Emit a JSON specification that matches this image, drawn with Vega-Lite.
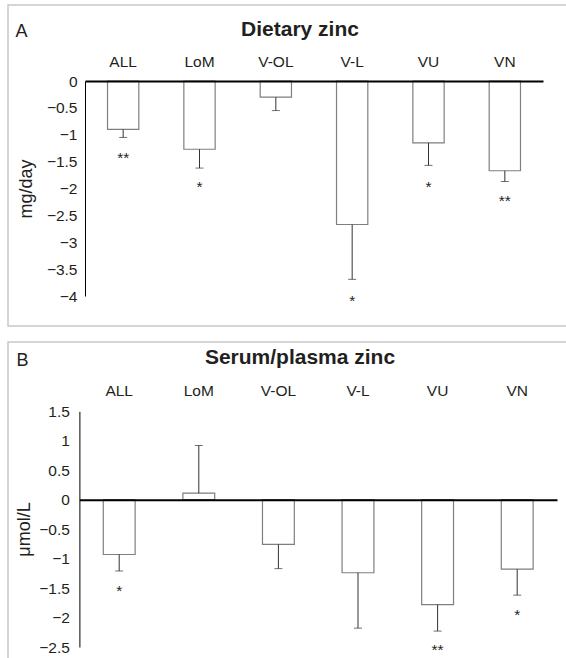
{
  "$schema": "https://vega.github.io/schema/vega-lite/v6.json",
  "padding": {"left": 7, "top": 4, "right": 0, "bottom": 0},
  "background": "white",
  "config": {
    "view": {"stroke": "#c8c8c8", "strokeWidth": 1.5},
    "font": "Liberation Sans",
    "axis": {"grid": false, "labelOverlap": false, "labelColor": "#231f20", "titleColor": "#231f20", "labelFont": "Liberation Sans", "titleFont": "Liberation Sans"},
    "axisY": {"labelOverlap": false}
  },
  "spacing": 14,
  "datasets": {
    "dietary": [
      {"group": "ALL", "mean": -0.90, "err": -1.05, "sig": "**", "sigpos": -1.36},
      {"group": "LoM", "mean": -1.27, "err": -1.62, "sig": "*", "sigpos": -1.89},
      {"group": "V-OL", "mean": -0.30, "err": -0.55, "sig": "", "sigpos": null},
      {"group": "V-L", "mean": -2.67, "err": -3.69, "sig": "*", "sigpos": -4.01},
      {"group": "VU", "mean": -1.15, "err": -1.57, "sig": "*", "sigpos": -1.89},
      {"group": "VN", "mean": -1.67, "err": -1.87, "sig": "**", "sigpos": -2.15}
    ],
    "serum": [
      {"group": "ALL", "mean": -0.93, "err": -1.21, "sig": "*", "sigpos": -1.48},
      {"group": "LoM", "mean": 0.11, "err": 0.92, "sig": "", "sigpos": null},
      {"group": "V-OL", "mean": -0.76, "err": -1.17, "sig": "", "sigpos": null},
      {"group": "V-L", "mean": -1.24, "err": -2.18, "sig": "", "sigpos": null},
      {"group": "VU", "mean": -1.78, "err": -2.23, "sig": "**", "sigpos": -2.49},
      {"group": "VN", "mean": -1.18, "err": -1.62, "sig": "*", "sigpos": -1.89}
    ]
  },
  "vconcat": [
    {
      "width": 584,
      "height": 321,
      "title": {"text": "Dietary zinc", "anchor": "middle", "frame": "group", "offset": -51.7, "baseline": "alphabetic", "fontSize": 21, "fontWeight": "bold", "color": "#231f20", "font": "Liberation Sans"},
      "data": {"name": "dietary"},
      "encoding": {
        "x": {
          "field": "group", "type": "nominal", "sort": null,
          "scale": {"range": [77, 535], "paddingInner": 0.59, "paddingOuter": 0.295},
          "axis": {
            "orient": "top", "offset": -76, "domain": true, "domainColor": "#000000", "domainWidth": 2,
            "ticks": false, "tickSize": 0, "labelPadding": 15, "labelBaseline": "alphabetic", "labelAngle": 0,
            "labelFontSize": 15.5, "zindex": 1,
            "title": "A", "titleX": 7, "titleY": -44.3, "titleAlign": "left", "titleBaseline": "alphabetic",
            "titleFontSize": 18, "titleFontWeight": "normal", "titleAngle": 0
          }
        }
      },
      "layer": [
        {
          "mark": {"type": "bar", "fill": "white", "stroke": "#7f7f7f", "strokeWidth": 1.2},
          "encoding": {
            "y": {
              "field": "mean", "type": "quantitative",
              "scale": {"domain": [-4, 0], "range": [291, 76], "nice": false, "zero": false},
              "axis": {
                "orient": "left", "offset": -77, "tickCount": 8,
                "format": "~g", "labelOverlap": false,
                "ticks": false, "tickSize": 0, "domainColor": "#000000", "domainWidth": 1,
                "labelPadding": 8, "labelFontSize": 15.5,
                "title": "mg/day", "titleX": -59, "titleY": 183.5, "titleAngle": -90, "titleAlign": "center",
                "titleBaseline": "middle", "titleFontSize": 18, "titleFontWeight": "normal"
              }
            },
            "y2": {"datum": 0}
          }
        },
        {
          "mark": {"type": "rule", "color": "#333333", "strokeWidth": 1},
          "encoding": {"y": {"field": "mean", "type": "quantitative"}, "y2": {"field": "err"}}
        },
        {
          "mark": {"type": "tick", "color": "#333333", "size": 8, "thickness": 1, "orient": "horizontal"},
          "encoding": {"y": {"field": "err", "type": "quantitative"}}
        },
        {
          "transform": [{"filter": "datum.sig != ''"}],
          "mark": {"type": "text", "fontSize": 15.5, "baseline": "middle", "dy": 4, "color": "#231f20"},
          "encoding": {"y": {"field": "sigpos", "type": "quantitative"}, "text": {"field": "sig"}}
        }
      ]
    },
    {
      "width": 584,
      "height": 320,
      "title": {"text": "Serum/plasma zinc", "anchor": "middle", "frame": "group", "offset": -43.3, "baseline": "alphabetic", "fontSize": 21, "fontWeight": "bold", "color": "#231f20", "font": "Liberation Sans"},
      "data": {"name": "serum"},
      "encoding": {
        "x": {
          "field": "group", "type": "nominal", "sort": null,
          "scale": {"range": [71.4, 549], "paddingInner": 0.6, "paddingOuter": 0.3},
          "axis": {
            "orient": "top", "offset": -157.7, "domain": true, "domainColor": "#000000", "domainWidth": 2,
            "ticks": false, "tickSize": 0, "labelPadding": 104.7, "labelBaseline": "alphabetic", "labelAngle": 0,
            "labelFontSize": 15.5, "zindex": 1,
            "title": "B", "titleX": 8, "titleY": -134.4, "titleAlign": "left", "titleBaseline": "alphabetic",
            "titleFontSize": 18, "titleFontWeight": "normal", "titleAngle": 0
          }
        }
      },
      "layer": [
        {
          "mark": {"type": "bar", "fill": "white", "stroke": "#7f7f7f", "strokeWidth": 1.2},
          "encoding": {
            "y": {
              "field": "mean", "type": "quantitative",
              "scale": {"domain": [-2.5, 1.5], "range": [305, 69.3], "nice": false, "zero": false},
              "axis": {
                "orient": "left", "offset": -71.4, "tickCount": 8,
                "format": "~g", "labelOverlap": false,
                "ticks": false, "tickSize": 0, "domainColor": "#000000", "domainWidth": 1,
                "labelPadding": 10, "labelFontSize": 15.5,
                "title": "μmol/L", "titleX": -55.4, "titleY": 187, "titleAngle": -90, "titleAlign": "center",
                "titleBaseline": "middle", "titleFontSize": 18, "titleFontWeight": "normal"
              }
            },
            "y2": {"datum": 0}
          }
        },
        {
          "mark": {"type": "rule", "color": "#333333", "strokeWidth": 1},
          "encoding": {"y": {"field": "mean", "type": "quantitative"}, "y2": {"field": "err"}}
        },
        {
          "mark": {"type": "tick", "color": "#333333", "size": 8, "thickness": 1, "orient": "horizontal"},
          "encoding": {"y": {"field": "err", "type": "quantitative"}}
        },
        {
          "transform": [{"filter": "datum.sig != ''"}],
          "mark": {"type": "text", "fontSize": 15.5, "baseline": "middle", "dy": 4, "color": "#231f20"},
          "encoding": {"y": {"field": "sigpos", "type": "quantitative"}, "text": {"field": "sig"}}
        }
      ]
    }
  ]
}
